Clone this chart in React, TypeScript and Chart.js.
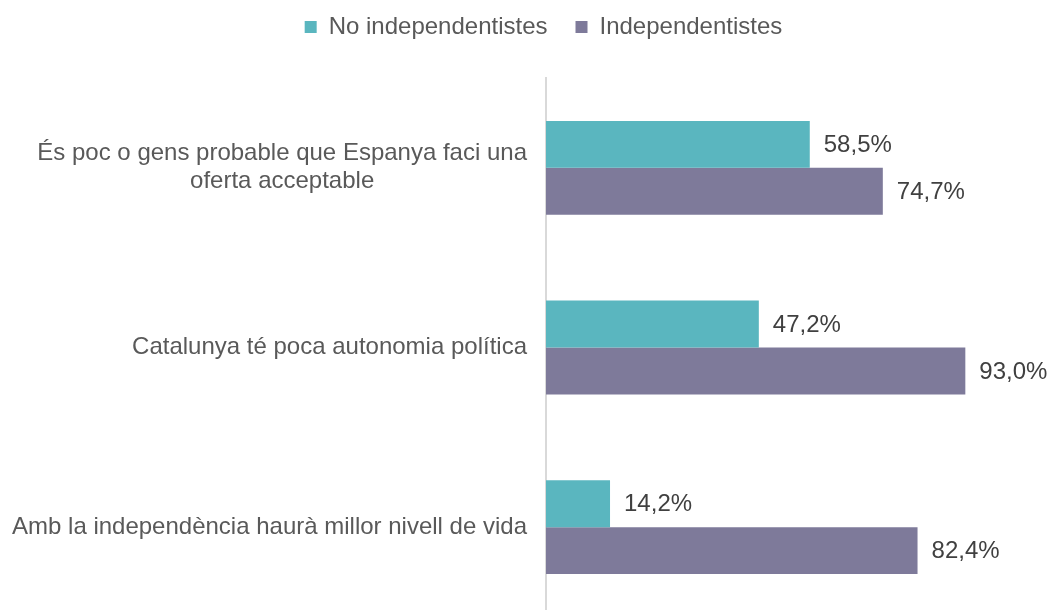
import { useEffect, useRef } from "react";
import { Chart, registerables } from "chart.js";

Chart.register(...registerables);

const FONT = '"Liberation Sans", Arial, sans-serif';

const categories: string[][] = [
  ["És poc o gens probable que Espanya faci una", "oferta acceptable"],
  ["Catalunya té poca autonomia política"],
  ["Amb la independència haurà millor nivell de vida"],
];
const seriesNames = ["No independentistes", "Independentistes"];
const noIndependentistes = [58.5, 47.2, 14.2];
const independentistes = [74.7, 93.0, 82.4];
const seriesColors = ["#5AB6BF", "#7E7A9A"];

const fmt = (v: number) => `${v.toFixed(1).replace(".", ",")}%`;

const yLabelPlugin = {
  id: "yLabelPlugin",
  afterDraw(chart: any) {
    const ctx = chart.ctx;
    const y = chart.scales.y;
    ctx.save();
    ctx.font = `24px ${FONT}`;
    ctx.fillStyle = "#595959";
    ctx.textAlign = "center";
    ctx.textBaseline = "middle";
    const right = y.right - 19;
    const lh = 28;
    categories.forEach((lines, i) => {
      const maxW = Math.max(...lines.map((l) => ctx.measureText(l).width));
      const cx = right - maxW / 2;
      const cy = y.getPixelForTick(i);
      lines.forEach((l, j) => {
        ctx.fillText(l, cx, cy + (j - (lines.length - 1) / 2) * lh);
      });
    });
    ctx.restore();
  },
};

const dataLabelPlugin = {
  id: "dataLabelPlugin",
  afterDatasetsDraw(chart: any) {
    const ctx = chart.ctx;
    ctx.save();
    ctx.font = `24px ${FONT}`;
    ctx.fillStyle = "#404040";
    ctx.textAlign = "left";
    ctx.textBaseline = "middle";
    chart.data.datasets.forEach((ds: any, di: number) => {
      const meta = chart.getDatasetMeta(di);
      meta.data.forEach((bar: any, i: number) => {
        ctx.fillText(fmt(ds.data[i]), bar.x + 14, bar.y + 1);
      });
    });
    ctx.restore();
  },
};

export default function App() {
  const ref = useRef<HTMLCanvasElement | null>(null);
  useEffect(() => {
    if (!ref.current) return;
    const chart = new Chart(ref.current, {
      type: "bar",
      data: {
        labels: categories.map((c) => c.join(" ")),
        datasets: [
          {
            label: seriesNames[0],
            data: noIndependentistes,
            backgroundColor: seriesColors[0],
            borderWidth: 0,
            barPercentage: 1,
            categoryPercentage: 0.522,
          },
          {
            label: seriesNames[1],
            data: independentistes,
            backgroundColor: seriesColors[1],
            borderWidth: 0,
            barPercentage: 1,
            categoryPercentage: 0.522,
          },
        ],
      },
      options: {
        indexAxis: "y",
        animation: false,
        responsive: false,
        maintainAspectRatio: false,
        layout: { padding: { top: -13, left: 36, right: 0, bottom: 3 } },
        plugins: {
          legend: {
            position: "top",
            labels: {
              boxWidth: 12,
              boxHeight: 12,
              padding: 28,
              color: "#595959",
              font: { family: FONT, size: 24 },
            },
          },
          tooltip: { enabled: false },
        },
        scales: {
          x: {
            type: "linear",
            position: "top",
            min: 0,
            max: 112,
            grid: { display: false },
            border: { display: false },
            ticks: { display: false },
            afterFit: (s: any) => {
              s.height = 29;
            },
          },
          y: {
            grid: { display: false },
            border: { display: true, color: "#D9D9D9", width: 2 },
            ticks: { display: false },
            afterFit: (s: any) => {
              s.width = 510;
            },
          },
        },
      },
      plugins: [yLabelPlugin, dataLabelPlugin],
    });
    return () => chart.destroy();
  }, []);
  return (
    <div
      style={{
        position: "fixed",
        left: 0,
        top: 0,
        width: 1051,
        height: 610,
        overflow: "hidden",
        background: "#fff",
      }}
    >
      <canvas ref={ref} width={1051} height={620} style={{ display: "block" }} />
    </div>
  );
}
